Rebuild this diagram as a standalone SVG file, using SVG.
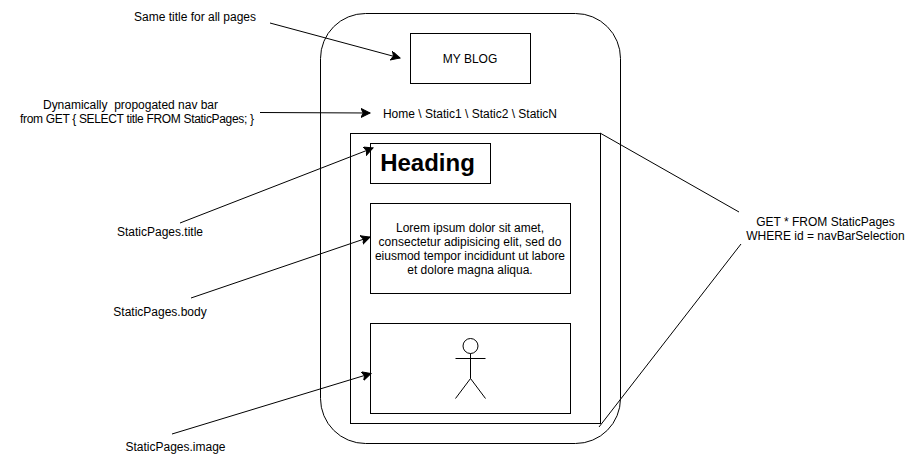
<svg xmlns="http://www.w3.org/2000/svg" width="912" height="456" viewBox="0 0 912 456">
<style>
.s{fill:#fff;stroke:#000;stroke-width:1}
.n{fill:none;stroke:#000;stroke-width:1}
text{font-family:"Liberation Sans",Arial,sans-serif;font-size:12px;fill:#000;text-anchor:middle;white-space:pre}
.a{marker-end:url(#arrow)}
</style>
<defs><marker id="arrow" markerUnits="userSpaceOnUse" markerWidth="12" markerHeight="10" refX="9" refY="4.5" orient="auto"><path d="M0 0L9 4.5L0 9L2.25 4.5Z" fill="#000" stroke="#000" stroke-width="1"/></marker></defs>
<rect width="912" height="456" fill="#fff"/>
<g id="phone"><rect class="s" x="320.500" y="13.500" width="300" height="430" rx="45" ry="45"/></g>
<g id="title"><rect class="s" x="410.500" y="33.500" width="120" height="50"/><text x="470" y="63">MY BLOG</text></g>
<g id="nav"><text x="470" y="118">Home \ Static1 \ Static2 \ StaticN</text></g>
<g id="page"><rect class="s" x="350.500" y="133.500" width="250" height="290"/></g>
<g id="heading"><rect class="s" x="370.500" y="143.500" width="120" height="40"/><text x="427.500" y="171" style="font-size:24px;font-weight:bold">Heading</text></g>
<g id="body"><rect class="s" x="370.500" y="203.500" width="200" height="90"/><text x="470" y="232">Lorem ipsum dolor sit amet,</text><text x="470" y="246">consectetur adipisicing elit, sed do</text><text x="470" y="260">eiusmod tempor incididunt ut labore</text><text x="470" y="274">et dolore magna aliqua.</text></g>
<g id="image"><rect class="s" x="370.500" y="323.500" width="200" height="90"/><circle class="n" cx="470.500" cy="346" r="7.500"/><path class="n" d="M470.500 353.500V378.500M455.500 358.500H485.500M470.500 378.500L455.500 398.500M470.500 378.500L485.500 398.500"/></g>
<g id="label-title-note"><text x="195" y="21">Same title for all pages</text></g>
<g id="label-nav-note"><text x="130.500" y="109" textLength="175">Dynamically  propogated nav bar</text><text x="137" y="123" textLength="234">from GET { SELECT title FROM StaticPages; }</text></g>
<g id="label-sp-title"><text x="160" y="236">StaticPages.title</text></g>
<g id="label-sp-body"><text x="160" y="316">StaticPages.body</text></g>
<g id="label-sp-image"><text x="175.500" y="451">StaticPages.image</text></g>
<g id="label-get"><text x="825.500" y="226">GET * FROM StaticPages</text><text x="825.500" y="240">WHERE id = navBarSelection</text></g>
<g id="connectors">
<path class="n a" d="M270 23L400 58"/>
<path class="n a" d="M260 112.500L370 113"/>
<path class="n a" d="M180 223L373 148"/>
<path class="n a" d="M191 298L370 237"/>
<path class="n a" d="M172 434L371 373.500"/>
<path class="n" d="M600 133L739 212M741 244L599 427"/>
</g>
</svg>
